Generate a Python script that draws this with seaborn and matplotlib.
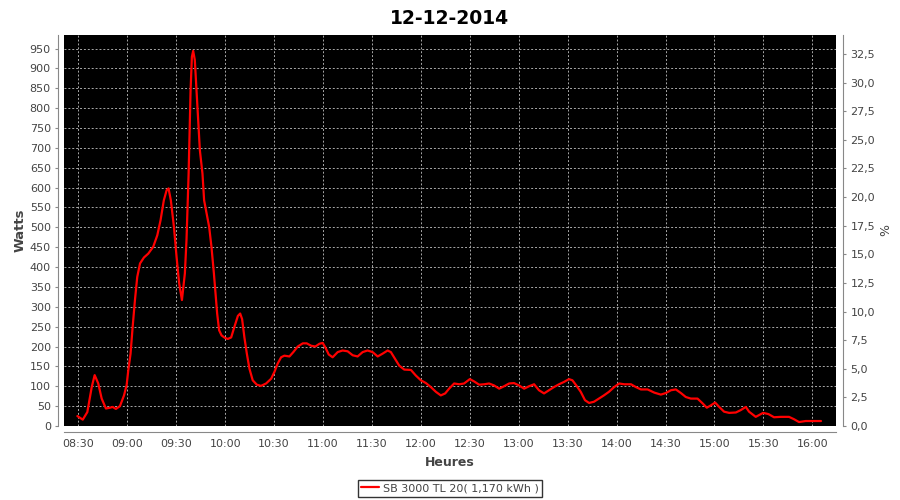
import pandas as pd
import numpy as np
import matplotlib
matplotlib.use('Agg')
import matplotlib.pyplot as plt
import matplotlib.dates as mdates
from matplotlib.ticker import FuncFormatter
import seaborn as sns


# Data (minutes after 08:30, watts)

minutes = [
    -0.6, 2.7, 5.5, 8.2, 10.0, 12.2, 14.3, 16.9, 19.4, 21.0, 23.0, 25.5, 28.0, 29.6,
    30.6, 32.0, 33.3, 34.7, 36.1, 37.8, 40.2, 42.9, 45.9, 48.4, 50.4, 52.4, 54.1,
    55.3, 56.7, 58.6, 60.2, 61.8, 63.5, 65.3, 66.3, 67.6, 68.8, 69.6, 70.4, 71.4,
    72.9, 74.5, 76.1, 77.1, 78.6, 80.2, 81.6, 83.1, 84.3, 85.1, 86.3, 87.8, 89.8,
    91.6, 93.7, 95.7, 97.8, 99.2, 100.4, 101.8, 103.3, 104.9, 106.9, 109.4, 112.0,
    115.1, 118.2, 120.2, 122.2, 124.3, 126.3, 129.4, 131.8, 134.5, 137.6, 140.0,
    142.7, 145.3, 147.8, 149.8, 151.4, 153.5, 155.9, 159.0, 162.0, 165.1, 168.2,
    171.2, 174.3, 177.3, 180.4, 183.5, 186.5, 189.6, 191.6, 193.7, 196.7, 199.8,
    203.9, 206.9, 210.0, 213.1, 216.1, 219.2, 222.2, 224.9, 227.3, 230.4, 233.5,
    236.5, 240.0, 242.7, 245.7, 248.8, 251.8, 254.9, 258.0, 261.0, 264.1, 267.1,
    270.2, 273.3, 276.3, 279.4, 282.4, 285.5, 288.6, 291.6, 294.7, 297.8, 300.8,
    302.9, 305.3, 308.0, 310.6, 313.1, 316.1, 319.2, 322.2, 325.3, 328.5, 331.6,
    334.7, 338.8, 341.8, 344.9, 349.0, 353.1, 357.1, 360.2, 363.3, 366.3, 369.4,
    372.4, 375.5, 379.6, 382.7, 385.3, 387.8, 390.4, 392.9, 395.9, 399.0, 403.1,
    406.1, 409.2, 411.2, 415.3, 419.8, 423.1, 426.5, 430.6, 435.7, 438.8, 441.8,
    445.9, 451.0, 455.3,
]

watts = [
    25, 16, 35, 98, 128, 107, 69, 44, 46, 48, 43, 50, 77, 103,
    140, 182, 250, 317, 375, 409, 424, 434, 451, 480, 518, 568, 593,
    598, 568, 501, 426, 359, 317, 384, 468, 635, 845, 929, 944, 921,
    812, 694, 635, 568, 535, 501, 451, 384, 325, 283, 241, 228, 222,
    219, 223, 250, 277, 283, 269, 223, 182, 144, 115, 104, 101,
    107, 119, 136, 157, 173, 177, 175, 186, 200, 208, 208,
    202, 200, 207, 209, 198, 180, 173, 186, 190, 188, 178,
    175, 186, 190, 186, 175, 182, 190, 186, 172, 152, 142,
    141, 127, 115, 108, 98, 86, 77, 82, 94, 107, 105,
    107, 118, 112, 104, 105, 107, 102, 94, 100, 107, 108,
    102, 94, 100, 105, 90, 82, 90, 98, 105, 111, 118,
    115, 102, 86, 65, 58, 61, 69, 77, 86, 98, 107,
    105, 105, 98, 92, 92, 84, 79, 83, 90, 92, 83,
    73, 69, 69, 57, 46, 52, 59, 48, 36, 33, 34,
    40, 48, 36, 23, 33, 30, 22, 23, 23, 17, 10,
    12.5, 12.5, 12.5,
]

title = '12-12-2014'
legend_label = 'SB 3000 TL 20( 1,170 kWh )'
watt_ticks = list(range(0, 951, 50))
pct_ticks = [i * 2.5 for i in range(14)]

base = pd.Timestamp('2014-12-12 08:30')
df = pd.DataFrame({
    'time': base + pd.to_timedelta(minutes, unit='m'),
    'watts': watts,
})


# Plot

sns.set_style('white')
plt.rcParams['font.family'] = ['DejaVu Sans']

fig = plt.figure(figsize=(9, 5), dpi=100)
ax = fig.add_axes([64 / 900, 1 - 426 / 500, (836 - 64) / 900, (426 - 35) / 500])
ax.set_facecolor('black')

sns.lineplot(data=df, x='time', y='watts', ax=ax, color='red', linewidth=1.6,
             label=legend_label, legend=False)

ax.set_xlim(base - pd.Timedelta(minutes=8.8), base + pd.Timedelta(minutes=464.5))
ax.set_ylim(0, 984)
ax.set_yticks(watt_ticks)
ax.xaxis.set_major_locator(mdates.MinuteLocator(byminute=[0, 30]))
ax.xaxis.set_major_formatter(mdates.DateFormatter('%H:%M'))

ax.grid(True, color='#a8a8a8', linestyle=(0, (2, 2)), linewidth=0.7)

tick_color = '#444444'
for s in ['top', 'right']:
    ax.spines[s].set_visible(False)
for s in ['left', 'bottom']:
    ax.spines[s].set_color('#888888')
    ax.spines[s].set_position(('outward', 4))
ax.tick_params(axis='both', colors='#888888', labelcolor=tick_color,
               labelsize=8, length=2, width=0.8, direction='out')

ax.set_xlabel('Heures', fontsize=9, fontweight='bold', color=tick_color, labelpad=5)
ax.set_ylabel('Watts', fontsize=9.5, fontweight='bold', color=tick_color, labelpad=2)
ax.set_title(title, fontsize=13.5, fontweight='bold', color='black', pad=8)

# right axis in percent
ax2 = ax.twinx()
ax2.set_ylim(0, 34.16)
ax2.set_yticks(pct_ticks)
ax2.yaxis.set_major_formatter(FuncFormatter(lambda v, p: f'{v:.1f}'.replace('.', ',')))
for s in ['top', 'left', 'bottom']:
    ax2.spines[s].set_visible(False)
ax2.spines['right'].set_color('#888888')
ax2.spines['right'].set_position(('outward', 5))
ax2.tick_params(axis='y', colors='#888888', labelcolor=tick_color,
                labelsize=8, length=2, width=0.8)
ax2.set_ylabel('%', fontsize=9, color=tick_color, labelpad=3)

handles, labels = ax.get_legend_handles_labels()
leg = fig.legend(handles, labels, loc='lower center', bbox_to_anchor=(0.5, 0.0),
                 fontsize=8, frameon=True, fancybox=False, handlelength=1.6,
                 handletextpad=0.4, borderpad=0.3, borderaxespad=0.3)
leg.get_frame().set_edgecolor('black')
leg.get_frame().set_linewidth(1)
for t in leg.get_texts():
    t.set_color(tick_color)

fig.savefig('out.png', dpi=100)
